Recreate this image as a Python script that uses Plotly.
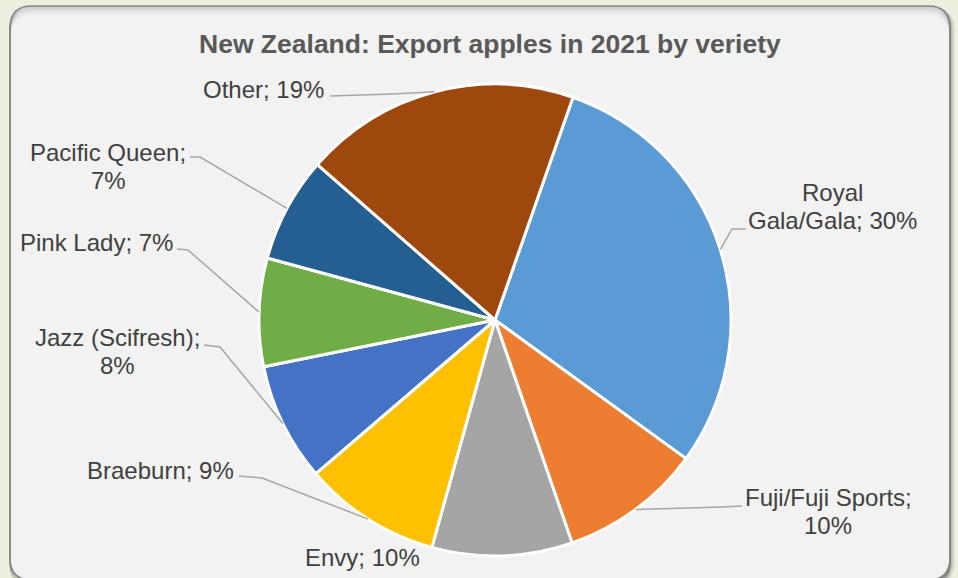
import math
import plotly.graph_objects as go

W, H = 958, 578

# ---- data ----
varieties = ["Royal Gala/Gala", "Fuji/Fuji Sports", "Envy", "Braeburn",
             "Jazz (Scifresh)", "Pink Lady", "Pacific Queen", "Other"]
shares = [29.6, 9.7, 9.6, 9.4, 8.1, 7.4, 7.2, 18.9]
colors = ["#5B9BD5", "#ED7D31", "#A5A5A5", "#FFC000",
          "#4472C4", "#70AD47", "#255E91", "#9E480E"]
title_text = "New Zealand: Export apples in 2021 by veriety"

# ---- layout constants (pixels) ----
CX, CY, R = 495, 320, 236
ROT = 19.3
FONT = "Liberation Sans, Arial, sans-serif"
LINE_H = 28

label_layout = [
    dict(brk=1, x=832, y=192, xa="center", lead=[(746, 229), (732, 229)]),
    dict(brk=2, x=828, y=497, xa="center", lead=[(742, 506), (722, 507)]),
    dict(brk=None, x=362, y=557, xa="center", lead=None),
    dict(brk=None, x=236, y=470, xa="right", lead=[(239, 476), (262, 478)]),
    dict(brk=2, x=117, y=337, xa="center", lead=[(204, 345), (220, 347)]),
    dict(brk=None, x=175, y=242, xa="right", lead=[(177, 249), (188, 250)]),
    dict(brk=2, x=108, y=152, xa="center", lead=[(190, 157), (200, 157)]),
    dict(brk=None, x=326, y=89, xa="right", lead=[(330, 96), (392, 94)]),
]


def px(x):
    return x / W


def py(y):
    return 1 - y / H


def rrect(L, T, Rr, B, r):
    return (f"M {px(L + r)},{py(T)} L {px(Rr - r)},{py(T)} "
            f"Q {px(Rr)},{py(T)} {px(Rr)},{py(T + r)} "
            f"L {px(Rr)},{py(B - r)} Q {px(Rr)},{py(B)} {px(Rr - r)},{py(B)} "
            f"L {px(L + r)},{py(B)} Q {px(L)},{py(B)} {px(L)},{py(B - r)} "
            f"L {px(L)},{py(T + r)} Q {px(L)},{py(T)} {px(L + r)},{py(T)} Z")


shapes = []
PL, PT, PR, PB, PRAD = 10, 6, 950, 580, 22
# outer shadow
for i, op in [(5, 0.06), (4, 0.08), (3, 0.10), (2, 0.14), (1, 0.18)]:
    shapes.append(dict(type="path", xref="paper", yref="paper", layer="below",
                       path=rrect(PL + i, PT + i * 0.4, PR + i, PB + i, PRAD),
                       fillcolor=f"rgba(80,80,80,{op})", line=dict(width=0)))
# panel
shapes.append(dict(type="path", xref="paper", yref="paper", layer="below",
                   path=rrect(PL, PT, PR, PB, PRAD), fillcolor="#F2F2F2",
                   line=dict(width=0)))
# inner top gradient
for i in range(1, 11):
    op = 0.30 * (1 - i / 11) ** 1.5
    shapes.append(dict(type="path", xref="paper", yref="paper", layer="below",
                       path=rrect(PL, PT + i, PR, PB + i, PRAD),
                       fillcolor="rgba(0,0,0,0)",
                       line=dict(color=f"rgba(90,90,90,{op:.3f})", width=1.2)))
# border
shapes.append(dict(type="path", xref="paper", yref="paper", layer="below",
                   path=rrect(PL, PT, PR, PB, PRAD), fillcolor="rgba(0,0,0,0)",
                   line=dict(color="#858585", width=1.6)))

# ---- labels & leader lines ----
total = sum(shares)
annotations = []
cum = 0.0
for name, val, lay in zip(varieties, shares, label_layout):
    mid = ROT + (cum + val / 2) / total * 360
    cum += val
    pct = round(val / total * 100)
    words = f"{name}; {pct}%".split(" ")
    if lay["brk"]:
        lines = [" ".join(words[:lay["brk"]]), " ".join(words[lay["brk"]:])]
    else:
        lines = [" ".join(words)]
    for k, ln in enumerate(lines):
        annotations.append(dict(
            x=px(lay["x"]), y=py(lay["y"] + k * LINE_H), xref="paper", yref="paper",
            text=ln, showarrow=False, xanchor=lay["xa"], yanchor="middle",
            font=dict(family=FONT, size=24, color="#404040")))
    if lay["lead"]:
        ex = CX + R * math.sin(math.radians(mid))
        ey = CY - R * math.cos(math.radians(mid))
        pts = lay["lead"] + [(ex, ey)]
        path = "M " + " L ".join(f"{px(a)},{py(b)}" for a, b in pts)
        shapes.append(dict(type="path", xref="paper", yref="paper", layer="above",
                           path=path, line=dict(color="#A6A6A6", width=1.5)))

annotations.append(dict(
    x=px(490), y=py(44), xref="paper", yref="paper", text=f"<b>{title_text}</b>",
    showarrow=False, xanchor="center", yanchor="middle",
    font=dict(family=FONT, size=26.5, color="#595959")))

fig = go.Figure(go.Pie(
    labels=varieties, values=shares, sort=False, direction="clockwise",
    rotation=ROT, textinfo="none", hoverinfo="label+percent",
    marker=dict(colors=colors, line=dict(color="white", width=3)),
    domain=dict(x=[px(CX - R), px(CX + R)], y=[py(CY + R), py(CY - R)]),
    showlegend=False))

fig.update_layout(
    width=W, height=H, margin=dict(l=0, r=0, t=0, b=0),
    paper_bgcolor="#EBF1DE", plot_bgcolor="#EBF1DE",
    shapes=shapes, annotations=annotations, showlegend=False)

fig.write_html("out.html", config={"displayModeBar": False},
               post_script="document.body.style.margin='0';"
                           "document.body.style.background='#EBF1DE';")
